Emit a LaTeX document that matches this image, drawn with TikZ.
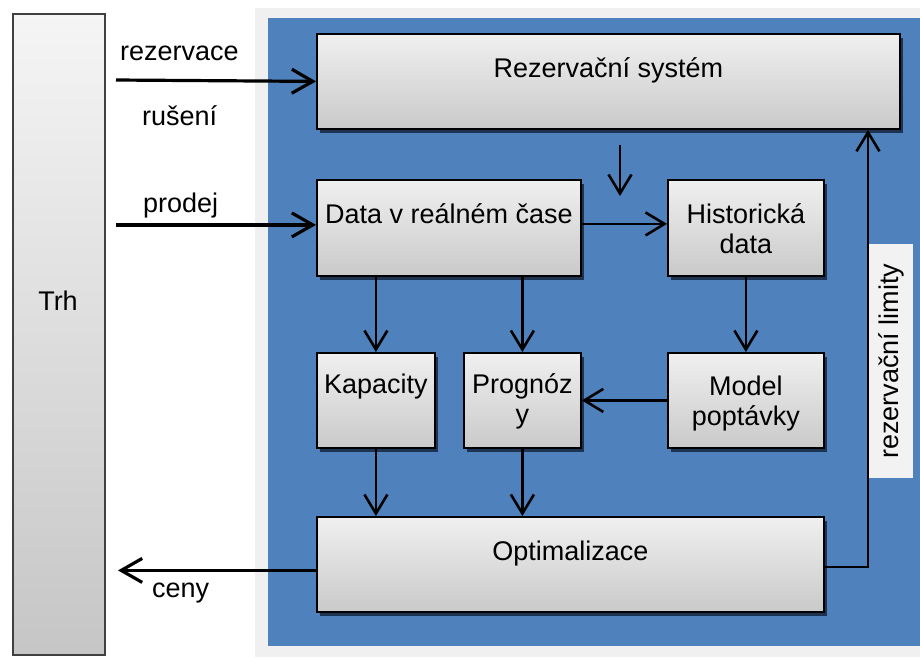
\documentclass[tikz,border=0pt]{standalone}
\usepackage{fontspec}
\setmainfont{Liberation Sans}
\usetikzlibrary{arrows.meta,shadows}
\definecolor{panelgray}{HTML}{F0F0F0}
\definecolor{panelblue}{HTML}{4F81BD}
\definecolor{tagfill}{HTML}{F2F2F2}
\definecolor{frameline}{HTML}{404040}
\definecolor{shadowcol}{HTML}{1E3352}
\tikzset{
  txt/.style={font=\fontsize{27}{30}\selectfont, inner sep=0pt, align=center},
  procbox/.style={draw=black, line width=1.8pt, top color=gray!12, bottom color=gray!42,
    anchor=north west, inner sep=0pt,
    general shadow={fill=shadowcol, shadow xshift=3pt, shadow yshift=-4pt}},
  flow/.style={line width=2.6pt, -{Straight Barb[length=19pt,width=23pt]}},
  extflow/.style={line width=3.2pt, -{Straight Barb[length=21pt,width=24pt]}},
}
\begin{document}
\begin{tikzpicture}[x=1pt,y=-1pt]
\useasboundingbox (0,0) rectangle (920,657);
\fill[white] (0,0) rectangle (920,657);

% system panel
\fill[panelgray] (255,8) rectangle (920,657);
\fill[panelblue] (268,18) rectangle (920,646);

% market column
\node[draw=frameline, line width=1.8pt, top color=gray!8, bottom color=gray!45,
  anchor=north west, minimum width=92pt, minimum height=641pt, inner sep=0pt]
  (trh) at (12,13) {};
\node[txt, anchor=base] (trhlbl) at (58,310) {Trh};

% process boxes
\node[procbox, minimum width=583pt, minimum height=95pt] (rs)   at (316,33)  {};
\node[procbox, minimum width=264pt, minimum height=96pt] (data) at (316,179) {};
\node[procbox, minimum width=156pt, minimum height=96pt] (hist) at (667,179) {};
\node[procbox, minimum width=118pt, minimum height=95pt] (kap)  at (316,352) {};
\node[procbox, minimum width=117pt, minimum height=95pt] (prog) at (463,352) {};
\node[procbox, minimum width=156pt, minimum height=95pt] (model) at (667,352) {};
\node[procbox, minimum width=507pt, minimum height=95pt] (opt)  at (316,516) {};

% box captions (two-line captions sit on their last baseline)
\node[txt, anchor=base] (rslbl)   at ([yshift=-44pt]rs.north)    {Rezervační systém};
\node[txt, anchor=base] (datalbl) at ([yshift=-44pt]data.north)  {Data v reálném čase};
\node[txt, anchor=base] (histlbl) at ([yshift=-74pt]hist.north)  {Historická\\data};
\node[txt, anchor=base] (kaplbl)  at ([yshift=-41pt]kap.north)   {Kapacity};
\node[txt, anchor=base] (proglbl) at ([yshift=-71pt]prog.north)  {Prognóz\\y};
\node[txt, anchor=base] (modlbl)  at ([yshift=-73pt]model.north) {Model\\poptávky};
\node[txt, anchor=base] (optlbl)  at ([yshift=-44pt]opt.north)   {Optimalizace};

% limit tag
\node[fill=tagfill, rotate=90, minimum width=234pt, minimum height=44pt, inner sep=0pt,
  font=\fontsize{27}{30}\selectfont] (limtag) at (891,361) {rezervační limity};

% free ends
\coordinate (resstart) at (116,80);
\coordinate (prodstart) at (116,0);
\coordinate (cenyend) at (118,0);
\coordinate (feedtop) at (620,145);
\coordinate (feedbot) at (620,196);
\coordinate (limx) at (868,0);

% external flows
\draw[extflow] (resstart) -- (rs.west);
\path ([yshift=3pt]data.west) coordinate (pe);
\draw[extflow] (pe -| prodstart) -- (pe);
\path ([yshift=-6pt]opt.west) coordinate (cs);
\draw[extflow] (cs) -- (cs -| cenyend);

\node[txt, anchor=base west] (lres)  at (120,60)  {rezervace};
\node[txt, anchor=base west] (lrus)  at (142,125) {rušení};
\node[txt, anchor=base west] (lprod) at (143,212) {prodej};
\node[txt, anchor=base west] (lceny) at (152,597) {ceny};

% internal flows
\draw[flow] (feedtop) -- (feedbot);
\draw[flow] ([yshift=4pt]data.east) -- ([yshift=4pt]hist.west);
\draw[flow] (data.south -| kap.south) -- (kap.north);
\draw[flow] (data.south -| prog.south) -- (prog.north);
\draw[flow] (hist.south) -- (model.north);
\draw[flow] (model.west) -- (model.west -| prog.east);
\draw[flow] (kap.south) -- (opt.north -| kap.south);
\draw[flow] (prog.south) -- (opt.north -| prog.south);
\draw[flow] ([yshift=-2.5pt]opt.east) -| (rs.south -| limx);
\end{tikzpicture}
\end{document}
